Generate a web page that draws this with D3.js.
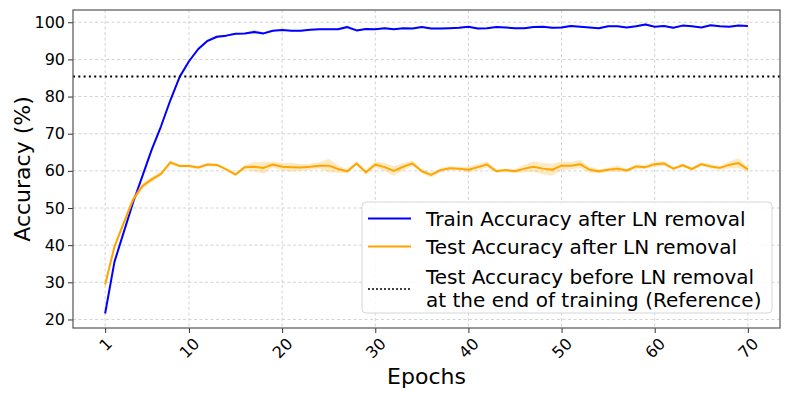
<!DOCTYPE html>
<html>
<head>
<meta charset="utf-8">
<script src="https://cdn.jsdelivr.net/npm/d3@7"></script>
<style>
    body { margin: 0; background: #fff; }
    #chart { width: 793px; height: 397px; }
    text { font-family: "DejaVu Sans", sans-serif; fill: #000; }
</style>
</head>
<body>
<div id="chart"></div>
<script>
// accuracy per epoch (%)
const epochs = d3.range(1, 71);

const trainAcc = [21.6, 35.5, 43.5, 51.5, 58.6, 65.7, 72.0, 79.0, 85.3, 89.5,
    92.8, 95.0, 96.1, 96.4, 96.9, 97.0, 97.4, 97.0, 97.7, 97.9,
    97.7, 97.7, 98.0, 98.1, 98.1, 98.1, 98.7, 97.8, 98.2, 98.1,
    98.4, 98.1, 98.4, 98.3, 98.7, 98.3, 98.3, 98.4, 98.5, 98.8,
    98.3, 98.4, 98.7, 98.6, 98.4, 98.4, 98.7, 98.8, 98.5, 98.6,
    99.0, 98.8, 98.6, 98.4, 98.9, 98.9, 98.6, 98.9, 99.4, 98.8,
    99.0, 98.5, 99.1, 98.9, 98.6, 99.2, 98.9, 98.8, 99.1, 99.0];

const trainStd = [0.2, 0.2, 0.2, 0.2, 0.2, 0.2, 0.2, 0.2, 0.2, 0.3,
    0.4, 0.4, 0.4, 0.3, 0.2, 0.2, 0.5, 0.3, 0.2, 0.2,
    0.2, 0.2, 0.2, 0.2, 0.2, 0.2, 0.5, 0.3, 0.2, 0.2,
    0.2, 0.2, 0.2, 0.2, 0.2, 0.2, 0.2, 0.2, 0.2, 0.2,
    0.2, 0.2, 0.2, 0.2, 0.2, 0.2, 0.2, 0.2, 0.2, 0.3,
    0.3, 0.2, 0.2, 0.2, 0.2, 0.2, 0.2, 0.2, 0.3, 0.2,
    0.2, 0.2, 0.2, 0.2, 0.2, 0.2, 0.2, 0.2, 0.2, 0.2];

const testAcc = [29.4, 39.6, 46.0, 52.3, 55.9, 57.7, 59.2, 62.3, 61.3, 61.3,
    60.9, 61.7, 61.6, 60.4, 59.0, 61.0, 61.1, 60.8, 61.7, 61.1,
    61.0, 60.9, 61.1, 61.4, 61.4, 60.5, 59.9, 62.0, 59.6, 61.7,
    61.0, 60.0, 61.1, 62.0, 59.9, 58.9, 60.2, 60.7, 60.6, 60.3,
    61.0, 61.7, 59.9, 60.2, 59.9, 60.6, 61.1, 60.6, 60.3, 61.4,
    61.4, 61.8, 60.3, 59.9, 60.3, 60.6, 60.1, 61.2, 61.0, 61.8,
    62.0, 60.6, 61.5, 60.5, 61.8, 61.2, 60.8, 61.6, 62.1, 60.4];

const testStd = [0.8, 0.6, 0.8, 1.0, 0.8, 0.7, 0.6, 0.5, 0.4, 0.4,
    0.4, 0.4, 0.4, 0.4, 0.4, 0.6, 1.3, 1.6, 0.8, 1.0,
    1.2, 0.9, 0.8, 0.9, 1.8, 1.0, 0.6, 0.5, 0.6, 0.8,
    1.1, 1.3, 1.0, 0.7, 0.5, 0.7, 0.6, 0.5, 0.5, 0.8,
    0.8, 0.8, 0.5, 0.4, 0.5, 1.0, 1.4, 1.5, 1.6, 1.2,
    1.0, 1.1, 0.8, 0.6, 0.5, 0.9, 0.4, 0.6, 0.5, 0.7,
    0.6, 0.4, 0.5, 0.4, 0.5, 0.6, 0.5, 0.9, 1.3, 0.6];

const referenceAcc = 85.4;

const xTicks = [1, 10, 20, 30, 40, 50, 60, 70];
const yTicks = [20, 30, 40, 50, 60, 70, 80, 90, 100];

const legendLabels = [
    ["Train Accuracy after LN removal"],
    ["Test Accuracy after LN removal"],
    ["Test Accuracy before LN removal", "at the end of training (Reference)"]
];

class AccuracyChart {
    constructor(parentElement) {
        this.parentElement = parentElement;
        this.initVis();
    }

    initVis() {
        let vis = this;

        vis.margin = {top: 10, right: 13, bottom: 69, left: 73};
        vis.width = 793 - vis.margin.left - vis.margin.right;
        vis.height = 397 - vis.margin.top - vis.margin.bottom;

        vis.svg = d3.select("#" + vis.parentElement).append("svg")
            .attr("width", 793)
            .attr("height", 397)
            .append("g")
            .attr("transform", "translate(" + vis.margin.left + "," + vis.margin.top + ")");

        // matplotlib style 5% padding around the data
        vis.x = d3.scaleLinear()
            .domain([1 - 69 * 0.05, 70 + 69 * 0.05])
            .range([0, vis.width]);

        vis.y = d3.scaleLinear()
            .domain([17.7, 103.3])
            .range([vis.height, 0]);

        // grid
        vis.svg.append("g").selectAll("line.vgrid")
            .data(xTicks).enter().append("line")
            .attr("x1", d => vis.x(d)).attr("x2", d => vis.x(d))
            .attr("y1", 0).attr("y2", vis.height)
            .attr("stroke", "#c8c8c8").attr("stroke-width", 0.8)
            .attr("stroke-dasharray", "3,2.5");

        vis.svg.append("g").selectAll("line.hgrid")
            .data(yTicks).enter().append("line")
            .attr("x1", 0).attr("x2", vis.width)
            .attr("y1", d => vis.y(d)).attr("y2", d => vis.y(d))
            .attr("stroke", "#c8c8c8").attr("stroke-width", 0.8)
            .attr("stroke-dasharray", "3,2.5");

        vis.drawSeries(trainAcc, trainStd, "#0000ff", "#8080ff");
        vis.drawSeries(testAcc, testStd, "#ffa500", "#ffc04d");

        // reference line
        vis.svg.append("line")
            .attr("x1", 0).attr("x2", vis.width)
            .attr("y1", vis.y(referenceAcc)).attr("y2", vis.y(referenceAcc))
            .attr("stroke", "#000").attr("stroke-width", 2)
            .attr("stroke-dasharray", "2,3.3");

        // axes
        let xAxis = d3.axisBottom(vis.x).tickValues(xTicks).tickSize(5).tickPadding(3);
        let yAxis = d3.axisLeft(vis.y).tickValues(yTicks).tickSize(5).tickPadding(3);

        let xg = vis.svg.append("g")
            .attr("transform", `translate(0,${vis.height})`)
            .call(xAxis);
        xg.select(".domain").remove();
        xg.selectAll(".tick line").attr("stroke", "#333");
        xg.selectAll(".tick text")
            .attr("font-size", 16)
            .attr("y", 0).attr("dy", null)
            .attr("text-anchor", "middle")
            .attr("dominant-baseline", "central")
            .attr("transform", function() {
                let w = this.getComputedTextLength();
                let h = (w + 17) / Math.SQRT2;
                return `translate(0,${7 + h / 2}) rotate(-45)`;
            });

        let yg = vis.svg.append("g").call(yAxis);
        yg.select(".domain").remove();
        yg.selectAll(".tick line").attr("stroke", "#333");
        yg.selectAll(".tick text").attr("font-size", 16).attr("x", -8);

        // frame
        vis.svg.append("rect")
            .attr("width", vis.width).attr("height", vis.height)
            .attr("fill", "none").attr("stroke", "#555").attr("stroke-width", 1.2);

        // axis labels
        vis.svg.append("text")
            .attr("x", vis.width / 2).attr("y", vis.height + 56)
            .attr("text-anchor", "middle")
            .attr("font-size", 22)
            .text("Epochs");

        vis.svg.append("text")
            .attr("transform", `translate(${-51},${vis.height / 2}) rotate(-90)`)
            .attr("text-anchor", "middle")
            .attr("dominant-baseline", "central")
            .attr("font-size", 22)
            .text("Accuracy (%)");

        vis.drawLegend();
    }

    drawSeries(values, std, color, bandColor) {
        let vis = this;
        let data = epochs.map((e, i) => ({e: e, v: values[i], s: std[i]}));

        let area = d3.area()
            .x(d => vis.x(d.e))
            .y0(d => vis.y(d.v - d.s))
            .y1(d => vis.y(d.v + d.s));

        vis.svg.append("path")
            .datum(data)
            .attr("d", area)
            .attr("fill", bandColor)
            .attr("fill-opacity", 0.35);

        let line = d3.line()
            .x(d => vis.x(d.e))
            .y(d => vis.y(d.v));

        vis.svg.append("path")
            .datum(data)
            .attr("d", line)
            .attr("fill", "none")
            .attr("stroke", color)
            .attr("stroke-width", 2)
            .attr("stroke-linejoin", "round");
    }

    drawLegend() {
        let vis = this;
        let lg = vis.svg.append("g")
            .attr("transform", "translate(289,192)");

        lg.append("rect")
            .attr("width", 410).attr("height", 111)
            .attr("rx", 4)
            .attr("fill", "#fff").attr("fill-opacity", 0.85)
            .attr("stroke", "#d6d6d6").attr("stroke-width", 1);

        let styles = [
            {color: "#0000ff", dash: null, y: 16.5},
            {color: "#ffa500", dash: null, y: 44.5},
            {color: "#000", dash: "2,2", y: 87}
        ];
        let textY = [[16.5], [44.5], [75, 98]];

        styles.forEach((s, i) => {
            lg.append("line")
                .attr("x1", 6).attr("x2", 49)
                .attr("y1", s.y).attr("y2", s.y)
                .attr("stroke", s.color)
                .attr("stroke-width", s.dash ? 1.5 : 2)
                .attr("stroke-dasharray", s.dash);

            legendLabels[i].forEach((t, j) => {
                lg.append("text")
                    .attr("x", 64).attr("y", textY[i][j])
                    .attr("dominant-baseline", "central")
                    .attr("font-size", 20)
                    .text(t);
            });
        });
    }
}

new AccuracyChart("chart");
</script>
</body>
</html>
